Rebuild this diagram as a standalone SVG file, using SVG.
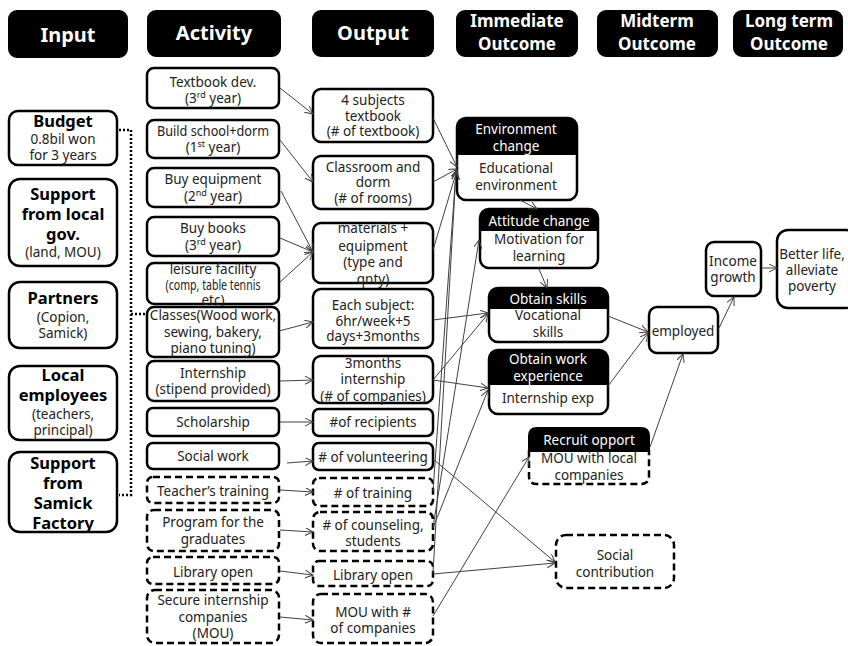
<svg xmlns="http://www.w3.org/2000/svg" width="848" height="646" viewBox="0 0 848 646">
  <defs>
    <marker id="arrow" markerWidth="10" markerHeight="10" refX="8" refY="4" orient="auto" markerUnits="userSpaceOnUse">
      <path d="M0,0 L8,4 L0,8" fill="none" stroke="#404040" stroke-width="1"/>
    </marker>
    <style>
      .hdr { fill: #000; stroke: #000; stroke-width: 2; }
      .hdr-t { fill: #fff; font-family: "Noto Sans", "Open Sans", sans-serif; font-weight: bold; text-anchor: middle; }
      .box { fill: #fff; stroke: #000; stroke-width: 2.5; }
      .dash { fill: #fff; stroke: #000; stroke-width: 2.5; stroke-dasharray: 7 4; }
      .t { fill: #222; font-family: "Noto Sans", "Open Sans", sans-serif; font-size: 13.5px; text-anchor: middle; }
      .b { fill: #000; font-family: "Noto Sans", "Open Sans", sans-serif; font-size: 16.5px; font-weight: bold; text-anchor: middle; }
      .w { fill: #fff; font-family: "Noto Sans", "Open Sans", sans-serif; font-size: 13.5px; text-anchor: middle; }
      .cap { fill: #000; }
      .link { fill: none; stroke: #404040; stroke-width: 1; marker-end: url(#arrow); }
      .dot { fill: none; stroke: #000; stroke-width: 2.5; stroke-dasharray: 2 2; }
      .sup { font-size: 9px; }
    </style>
  </defs>

  <!-- column headers -->
  <g id="header-input">
    <rect class="hdr" x="9" y="11" width="118" height="46" rx="8"/>
    <text class="hdr-t" x="68" y="42" font-size="20">Input</text>
  </g>
  <g id="header-activity">
    <rect class="hdr" x="148" y="11" width="132" height="45" rx="8"/>
    <text class="hdr-t" x="214" y="40" font-size="20">Activity</text>
  </g>
  <g id="header-output">
    <rect class="hdr" x="313" y="11" width="120" height="45" rx="8"/>
    <text class="hdr-t" x="373" y="40" font-size="20">Output</text>
  </g>
  <g id="header-immediate">
    <rect class="hdr" x="457" y="11" width="120" height="45" rx="8"/>
    <text class="hdr-t" x="517" y="27" font-size="17">Immediate</text>
    <text class="hdr-t" x="517" y="50" font-size="17">Outcome</text>
  </g>
  <g id="header-midterm">
    <rect class="hdr" x="598" y="11" width="119" height="45" rx="8"/>
    <text class="hdr-t" x="657" y="27" font-size="17">Midterm</text>
    <text class="hdr-t" x="657" y="50" font-size="17">Outcome</text>
  </g>
  <g id="header-longterm">
    <rect class="hdr" x="734" y="11" width="108" height="45" rx="8"/>
    <text class="hdr-t" x="789" y="27" font-size="17">Long term</text>
    <text class="hdr-t" x="789" y="50" font-size="17">Outcome</text>
  </g>

  <!-- dotted bracket joining the inputs to the classes -->
  <g id="input-bracket">
    <path class="dot" d="M119,130 H131 V495 H119"/>
    <path class="dot" d="M131,314 H147"/>
  </g>

  <!-- inputs -->
  <g id="in-budget">
    <rect class="box" x="9" y="111" width="108" height="54" rx="9"/>
    <text class="b" x="63" y="127">Budget</text>
    <text class="t" x="63" y="144">0.8bil won</text>
    <text class="t" x="63" y="160">for 3 years</text>
  </g>
  <g id="in-localgov">
    <rect class="box" x="9" y="179" width="108" height="87" rx="11"/>
    <text class="b" x="63" y="200">Support</text>
    <text class="b" x="63" y="220">from local</text>
    <text class="b" x="63" y="240">gov.</text>
    <text class="t" x="63" y="257">(land, MOU)</text>
  </g>
  <g id="in-partners">
    <rect class="box" x="9" y="282" width="108" height="66" rx="11"/>
    <text class="b" x="63" y="304">Partners</text>
    <text class="t" x="63" y="322">(Copion,</text>
    <text class="t" x="63" y="338">Samick)</text>
  </g>
  <g id="in-employees">
    <rect class="box" x="9" y="366" width="108" height="74" rx="11"/>
    <text class="b" x="63" y="381">Local</text>
    <text class="b" x="63" y="401">employees</text>
    <text class="t" x="63" y="419">(teachers,</text>
    <text class="t" x="63" y="435">principal)</text>
  </g>
  <g id="in-samick">
    <rect class="box" x="9" y="452" width="108" height="80" rx="11"/>
    <text class="b" x="63" y="469">Support</text>
    <text class="b" x="63" y="489">from</text>
    <text class="b" x="63" y="509">Samick</text>
    <text class="b" x="63" y="529">Factory</text>
  </g>

  <!-- activities -->
  <g id="act-textbook">
    <rect class="box" x="147" y="68" width="132" height="40" rx="7"/>
    <text class="t" x="213" y="87">Textbook dev.</text>
    <text class="t" x="213" y="103">(3<tspan class="sup" dy="-5">rd</tspan><tspan dy="5"> year)</tspan></text>
  </g>
  <g id="act-build">
    <rect class="box" x="147" y="120" width="132" height="38" rx="7"/>
    <text class="t" x="213" y="136" textLength="112" lengthAdjust="spacingAndGlyphs">Build school+dorm</text>
    <text class="t" x="213" y="152">(1<tspan class="sup" dy="-5">st</tspan><tspan dy="5"> year)</tspan></text>
  </g>
  <g id="act-equipment">
    <rect class="box" x="147" y="168" width="132" height="39" rx="7"/>
    <text class="t" x="213" y="184">Buy equipment</text>
    <text class="t" x="213" y="201">(2<tspan class="sup" dy="-5">nd</tspan><tspan dy="5"> year)</tspan></text>
  </g>
  <g id="act-books">
    <rect class="box" x="147" y="217" width="132" height="39" rx="7"/>
    <text class="t" x="213" y="233">Buy books</text>
    <text class="t" x="213" y="250">(3<tspan class="sup" dy="-5">rd</tspan><tspan dy="5"> year)</tspan></text>
  </g>
  <g id="act-leisure">
    <rect class="box" x="147" y="263" width="132" height="41" rx="7"/>
    <text class="t" x="213" y="274">leisure facility</text>
    <text class="t" x="213" y="290" font-size="11" textLength="95" lengthAdjust="spacingAndGlyphs">(comp, table tennis</text>
    <text class="t" x="213" y="305" font-size="11">etc)</text>
  </g>
  <g id="act-classes">
    <rect class="box" x="147" y="307" width="132" height="50" rx="7"/>
    <text class="t" x="213" y="320">Classes(Wood work,</text>
    <text class="t" x="213" y="337">sewing, bakery,</text>
    <text class="t" x="213" y="353">piano tuning)</text>
  </g>
  <g id="act-internship">
    <rect class="box" x="147" y="361" width="132" height="40" rx="7"/>
    <text class="t" x="213" y="378">Internship</text>
    <text class="t" x="213" y="394">(stipend provided)</text>
  </g>
  <g id="act-scholarship">
    <rect class="box" x="147" y="408" width="132" height="28" rx="6"/>
    <text class="t" x="213" y="427">Scholarship</text>
  </g>
  <g id="act-social">
    <rect class="box" x="147" y="443" width="132" height="26" rx="6"/>
    <text class="t" x="213" y="461">Social work</text>
  </g>
  <g id="act-teacher">
    <rect class="dash" x="147" y="477" width="132" height="26" rx="6"/>
    <text class="t" x="213" y="496">Teacher’s training</text>
  </g>
  <g id="act-graduates">
    <rect class="dash" x="147" y="510" width="132" height="41" rx="7"/>
    <text class="t" x="213" y="527">Program for the</text>
    <text class="t" x="213" y="544">graduates</text>
  </g>
  <g id="act-library">
    <rect class="dash" x="147" y="557" width="132" height="27" rx="6"/>
    <text class="t" x="213" y="577">Library open</text>
  </g>
  <g id="act-secure">
    <rect class="dash" x="147" y="590" width="132" height="53" rx="8"/>
    <text class="t" x="213" y="605">Secure internship</text>
    <text class="t" x="213" y="622">companies</text>
    <text class="t" x="213" y="638">(MOU)</text>
  </g>

  <!-- outputs -->
  <g id="out-textbook">
    <rect class="box" x="313" y="89" width="120" height="53" rx="8"/>
    <text class="t" x="373" y="105">4 subjects</text>
    <text class="t" x="373" y="121">textbook</text>
    <text class="t" x="373" y="136">(# of textbook)</text>
  </g>
  <g id="out-classroom">
    <rect class="box" x="313" y="156" width="120" height="53" rx="8"/>
    <text class="t" x="373" y="172">Classroom and</text>
    <text class="t" x="373" y="187">dorm</text>
    <text class="t" x="373" y="203">(# of rooms)</text>
  </g>
  <g id="out-materials">
    <rect class="box" x="313" y="223" width="120" height="60" rx="8"/>
    <text class="t" x="373" y="233">materials +</text>
    <text class="t" x="373" y="251">equipment</text>
    <text class="t" x="373" y="267">(type and</text>
    <text class="t" x="373" y="284">qnty)</text>
  </g>
  <g id="out-subject">
    <rect class="box" x="313" y="289" width="120" height="59" rx="8"/>
    <text class="t" x="373" y="310">Each subject:</text>
    <text class="t" x="373" y="326">6hr/week+5</text>
    <text class="t" x="373" y="341">days+3months</text>
  </g>
  <g id="out-internship">
    <rect class="box" x="313" y="356" width="120" height="47" rx="8"/>
    <text class="t" x="373" y="368">3months</text>
    <text class="t" x="373" y="384">internship</text>
    <text class="t" x="373" y="401">(# of companies)</text>
  </g>
  <g id="out-recipients">
    <rect class="box" x="313" y="409" width="120" height="27" rx="6"/>
    <text class="t" x="373" y="427">#of recipients</text>
  </g>
  <g id="out-volunteering">
    <rect class="box" x="313" y="443" width="120" height="27" rx="6"/>
    <text class="t" x="373" y="462"># of volunteering</text>
  </g>
  <g id="out-training">
    <rect class="dash" x="313" y="478" width="120" height="28" rx="6"/>
    <text class="t" x="373" y="498"># of training</text>
  </g>
  <g id="out-counseling">
    <rect class="dash" x="313" y="512" width="120" height="39" rx="7"/>
    <text class="t" x="373" y="530"># of counseling,</text>
    <text class="t" x="373" y="546">students</text>
  </g>
  <g id="out-library">
    <rect class="dash" x="313" y="561" width="120" height="25" rx="6"/>
    <text class="t" x="373" y="580">Library open</text>
  </g>
  <g id="out-mou">
    <rect class="dash" x="313" y="594" width="120" height="49" rx="8"/>
    <text class="t" x="373" y="617">MOU with #</text>
    <text class="t" x="373" y="633">of companies</text>
  </g>

  <!-- immediate outcomes -->
  <g id="imm-environment">
    <rect class="box" x="457" y="118" width="120" height="82" rx="9"/>
    <path class="cap" d="M457,155 V127 Q457,118 466,118 H568 Q577,118 577,127 V155 Z"/>
    <text class="w" x="516" y="134">Environment</text>
    <text class="w" x="516" y="151">change</text>
    <text class="t" x="516" y="173">Educational</text>
    <text class="t" x="516" y="190">environment</text>
  </g>
  <g id="imm-attitude">
    <rect class="box" x="480" y="209" width="118" height="59" rx="9"/>
    <path class="cap" d="M480,231 V217 Q480,209 488,209 H590 Q598,209 598,217 V231 Z"/>
    <text class="w" x="539" y="226">Attitude change</text>
    <text class="t" x="539" y="244">Motivation for</text>
    <text class="t" x="539" y="261">learning</text>
  </g>
  <g id="imm-skills">
    <rect class="box" x="489" y="288" width="119" height="54" rx="9"/>
    <path class="cap" d="M489,309 V296 Q489,288 497,288 H600 Q608,288 608,296 V309 Z"/>
    <text class="w" x="548" y="304">Obtain skills</text>
    <text class="t" x="548" y="320">Vocational</text>
    <text class="t" x="548" y="337">skills</text>
  </g>
  <g id="imm-experience">
    <rect class="box" x="489" y="350" width="119" height="64" rx="9"/>
    <path class="cap" d="M489,385 V358 Q489,350 497,350 H600 Q608,350 608,358 V385 Z"/>
    <text class="w" x="548" y="364">Obtain work</text>
    <text class="w" x="548" y="381">experience</text>
    <text class="t" x="548" y="403">Internship exp</text>
  </g>
  <g id="imm-recruit">
    <path class="dash" d="M529,450 V476 Q529,484 537,484 H641 Q649,484 649,476 V450"/>
    <path class="cap" stroke="#000" stroke-width="2" d="M529,451 V436 Q529,428 537,428 H641 Q649,428 649,436 V451 Z"/>
    <text class="w" x="589" y="445">Recruit opport</text>
    <text class="t" x="589" y="463">MOU with local</text>
    <text class="t" x="589" y="480">companies</text>
  </g>
  <g id="imm-social">
    <rect class="dash" x="556" y="535" width="118" height="53" rx="10"/>
    <text class="t" x="615" y="560">Social</text>
    <text class="t" x="615" y="577">contribution</text>
  </g>

  <!-- midterm and long term outcomes -->
  <g id="mid-employed">
    <rect class="box" x="649" y="307" width="69" height="46" rx="8"/>
    <text class="t" x="683" y="336">employed</text>
  </g>
  <g id="mid-income">
    <rect class="box" x="706" y="242" width="55" height="54" rx="8"/>
    <text class="t" x="733" y="266">Income</text>
    <text class="t" x="733" y="282">growth</text>
  </g>
  <g id="long-better">
    <rect class="box" x="777" y="230" width="80" height="78" rx="11"/>
    <text class="t" x="812" y="259">Better life,</text>
    <text class="t" x="812" y="275">alleviate</text>
    <text class="t" x="812" y="291">poverty</text>
  </g>

  <!-- connectors -->
  <g id="connectors">
    <!-- activity to output -->
    <path class="link" d="M280,88 L313,114"/>
    <path class="link" d="M280,140 L313,182"/>
    <path class="link" d="M281,191 L313,252"/>
    <path class="link" d="M280,238 L313,252"/>
    <path class="link" d="M280,282 L313,252"/>
    <path class="link" d="M279,331 L313,322"/>
    <path class="link" d="M280,381 L313,380"/>
    <path class="link" d="M280,422 L313,422"/>
    <path class="link" d="M287,463 L313,461"/>
    <path class="link" d="M280,490 L313,492"/>
    <path class="link" d="M280,530 L313,532"/>
    <path class="link" d="M280,571 L313,575"/>
    <path class="link" d="M280,617 L313,620"/>
    <!-- output to immediate outcome -->
    <path class="link" d="M433,118 L457,167"/>
    <path class="link" d="M433,182 L457,169"/>
    <path class="link" d="M433,250 L457,170"/>
    <path class="link" d="M433,491 L456,171"/>
    <path class="link" d="M433,573 L456,172"/>
    <path class="link" d="M433,527 L479,240"/>
    <path class="link" d="M433,320 L488,313"/>
    <path class="link" d="M433,380 L488,314"/>
    <path class="link" d="M433,380 L488,388"/>
    <path class="link" d="M433,528 L488,390"/>
    <path class="link" d="M433,459 L555,562"/>
    <path class="link" d="M433,574 L555,563"/>
    <path class="link" d="M433,616 L529,457"/>
    <!-- between immediate outcomes -->
    <path class="link" d="M520,200 L537,209"/>
    <path class="link" d="M539,269 L547,288"/>
    <!-- toward midterm and long term -->
    <path class="link" d="M608,316 L648,332"/>
    <path class="link" d="M608,386 L648,333"/>
    <path class="link" d="M650,447 L683,354"/>
    <path class="link" d="M718,330 L734,297"/>
    <path class="link" d="M762,268 L777,268"/>
  </g>
</svg>
